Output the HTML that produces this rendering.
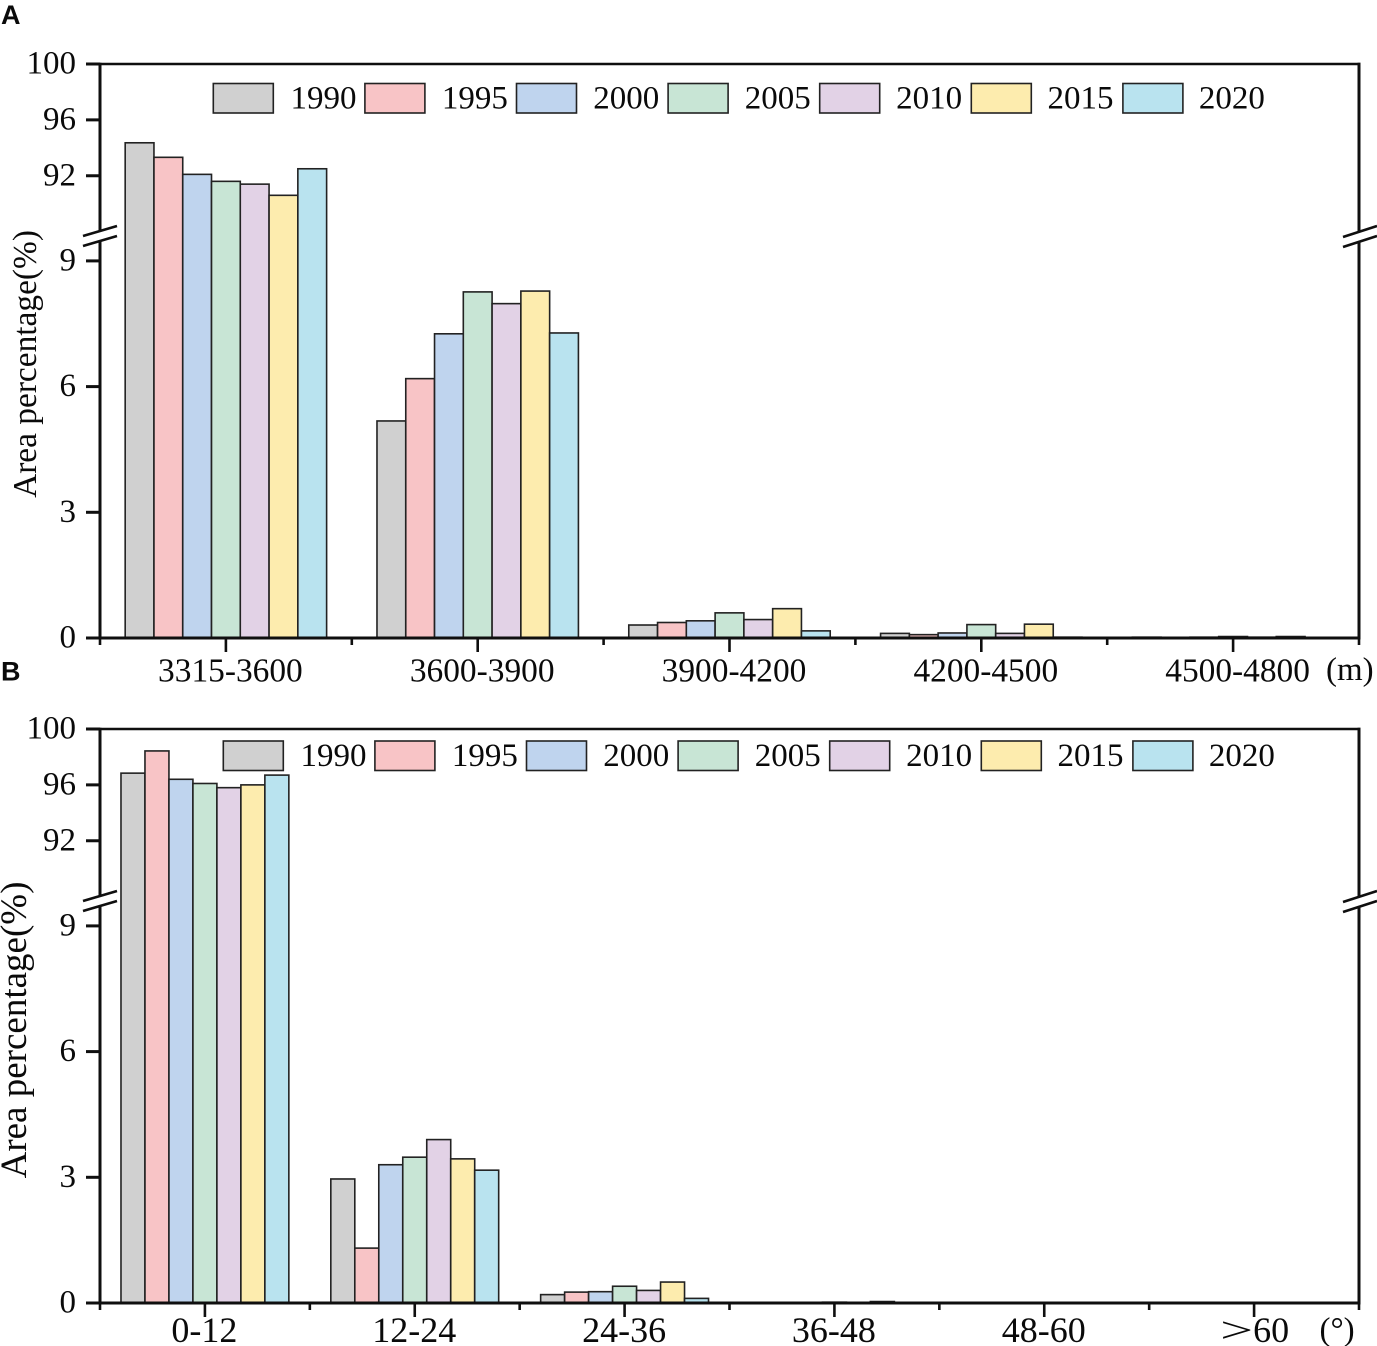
<!DOCTYPE html>
<html lang="en">
<head>
<meta charset="utf-8">
<title>Area percentage by elevation and slope</title>
<style>
html,body{margin:0;padding:0;background:#fff;}
svg{display:block;}
text{font-family:"Liberation Serif","Noto Serif CJK SC",serif;fill:#0a0a0a;}
.panel-letter{font-family:"Liberation Sans","Noto Sans CJK SC",sans-serif;font-weight:bold;}
</style>
</head>
<body>
<svg id="chart" xmlns="http://www.w3.org/2000/svg" width="1377" height="1346" viewBox="0 0 1377 1346"></svg>
<script>
const years = ['1990', '1995', '2000', '2005', '2010', '2015', '2020'];
const colors = ['#d0d0d0', '#f8c4c6', '#bfd4ee', '#c8e5d5', '#e2d2e6', '#fdecae', '#b9e3ef'];
const yTicks = [100, 96, 92, 9, 6, 3, 0];

const elevationCategories = ['3315-3600', '3600-3900', '3900-4200', '4200-4500', '4500-4800'];
const elevation1990 = [94.36, 5.18, 0.31, 0.11, 0.02];
const elevation1995 = [93.32, 6.19, 0.37, 0.08, 0];
const elevation2000 = [92.1, 7.26, 0.41, 0.12, 0.02];
const elevation2005 = [91.6, 8.26, 0.6, 0.32, 0.035];
const elevation2010 = [91.4, 7.98, 0.44, 0.11, 0.02];
const elevation2015 = [90.6, 8.28, 0.7, 0.33, 0.035];
const elevation2020 = [92.5, 7.28, 0.17, 0.02, 0];

const slopeCategories = ['0-12', '12-24', '24-36', '36-48', '48-60', '>60'];
const slope1990 = [96.84, 2.96, 0.2, 0, 0, 0];
const slope1995 = [98.43, 1.31, 0.26, 0, 0, 0];
const slope2000 = [96.4, 3.3, 0.27, 0, 0, 0];
const slope2005 = [96.1, 3.48, 0.4, 0.02, 0, 0];
const slope2010 = [95.8, 3.9, 0.3, 0, 0, 0];
const slope2015 = [96.0, 3.44, 0.5, 0.035, 0, 0];
const slope2020 = [96.7, 3.17, 0.11, 0, 0, 0];

const elevationSeries = [elevation1990, elevation1995, elevation2000, elevation2005, elevation2010, elevation2015, elevation2020];
const slopeSeries = [slope1990, slope1995, slope2000, slope2005, slope2010, slope2015, slope2020];

const svg = document.getElementById('chart');
const NS = 'http://www.w3.org/2000/svg';
const LEFT = 100, RIGHT = 1359, INK = '#0f0f0f';

function make(tag, attrs, parent) {
  const el = document.createElementNS(NS, tag);
  for (const k in attrs) el.setAttribute(k, attrs[k]);
  parent.appendChild(el);
  return el;
}

function line(x1, y1, x2, y2, w, parent, name) {
  const el = make('line', { x1: x1, y1: y1, x2: x2, y2: y2, stroke: INK, 'stroke-width': w }, parent);
  
  
  return el;
}

function label(str, x, y, size, anchor, parent, name) {
  const el = make('text', { x: x, y: y, 'font-size': size, 'text-anchor': anchor }, parent);
  el.textContent = str;
  
  
  return el;
}

function drawPanel(cfg) {
  const g = make('g', {}, svg);
  
  

  const top = cfg.top, bottom = top + 574;
  // piecewise broken y axis
  const yScale = function (v) {
    return v > 50 ? top + (100 - v) * 13.97 : bottom - v * 41.9;
  };
  const groupW = (RIGHT - LEFT) / cfg.categories.length;
  const xBand = function (i) { return LEFT + groupW * i; };
  const barW = groupW * 0.8 / years.length;

  // bars
  cfg.series.forEach(function (vals, s) {
    vals.forEach(function (v, c) {
      const yT = yScale(v);
      const bar = make('rect', {
        x: xBand(c) + groupW * 0.1 + barW * s,
        y: yT,
        width: barW,
        height: bottom - yT,
        fill: colors[s],
        stroke: '#222',
        'stroke-width': 1.6
      }, g);
      
      
    });
  });

  // frame
  const breakTop = top + 167, breakBot = top + 177;
  line(LEFT, top - 1.3, LEFT, breakTop, 3, g, 'y-axis-upper');
  line(LEFT, breakBot, LEFT, bottom, 3, g, 'y-axis-lower');
  line(RIGHT, top - 1.3, RIGHT, breakTop, 3, g, 'right-axis-upper');
  line(RIGHT, breakBot, RIGHT, bottom, 3, g, 'right-axis-lower');
  line(LEFT - 14, top, RIGHT + 1.5, top, 2.6, g, 'top-axis');
  line(LEFT - 1.5, bottom, RIGHT + 1.5, bottom, 3, g, 'x-axis');

  // break marks
  [0, 10].forEach(function (d) {
    line(83, top + 172 + d, 117, top + 162 + d, 2.6, g, 'y-axis-break-left');
    line(1343, top + 173 + d, 1377, top + 162 + d, 2.6, g, 'y-axis-break-right');
  });

  // y ticks
  yTicks.forEach(function (t) {
    const y = yScale(t);
    line(LEFT - 14, y, LEFT, y, 3, g, 'y-tick-' + t);
    label(String(t), 76, y + 9.5, 33, 'end', g, 'y-tick-label-' + t);
  });

  // x ticks
  for (let i = 0; i <= cfg.categories.length; i++) {
    line(xBand(i), bottom, xBand(i), bottom + 7, 2.6, g, 'x-minor-tick');
  }
  cfg.categories.forEach(function (cat, i) {
    const x = xBand(i) + groupW / 2;
    line(x, bottom, x, bottom + 14, 2.6, g, 'x-major-tick-' + cat);
    if (cat === '>60') {
      const t = make('text', { x: x - 34, y: bottom + cfg.labelDy, 'font-size': cfg.labelSize }, g);
      
      
      const gt = make('tspan', { textLength: 33, lengthAdjust: 'spacingAndGlyphs' }, t);
      gt.textContent = '>';
      const rest = make('tspan', {}, t);
      rest.textContent = '60';
    } else {
      label(cat, x + cfg.labelDx, bottom + cfg.labelDy, cfg.labelSize, 'middle', g, 'x-tick-label-' + cat);
    }
  });

  // unit
  label(cfg.unit, cfg.unitX, cfg.unitY, 33, 'start', g, 'x-axis-unit');

  // y title
  const title = label('Area percentage(%)', 0, 0, cfg.titleSize, 'middle', g, 'y-axis-title');
  title.setAttribute('transform', 'translate(' + cfg.titleX + ',' + cfg.titleY + ') rotate(-90)');

  // legend
  const legend = make('g', {}, g);
  
  
  years.forEach(function (yr, i) {
    const x = cfg.legendX + i * 151.6;
    const sw = make('rect', {
      x: x, y: cfg.legendY, width: 60, height: 29.5,
      fill: colors[i], stroke: '#222', 'stroke-width': 1.6
    }, legend);
    
    
    label(yr, x + 77.2 - i * 0.2, cfg.legendY + 25, 33, 'start', legend, 'legend-label-' + yr);
  });
}

drawPanel({
  name: 'panel-a-elevation', top: 64, categories: elevationCategories, series: elevationSeries,
  labelSize: 33.4, labelDx: 4.5, labelDy: 43.5, unit: '(m)', unitX: 1326, unitY: 680,
  titleSize: 33.4, titleX: 36, titleY: 364, legendX: 213.3, legendY: 83.5
});
drawPanel({
  name: 'panel-b-slope', top: 729, categories: slopeCategories, series: slopeSeries,
  labelSize: 36, labelDx: -0.5, labelDy: 39, unit: '(°)', unitX: 1319.5, unitY: 1340,
  titleSize: 37, titleX: 26, titleY: 1030, legendX: 223.3, legendY: 741
});

const letterA = make('text', { x: 1, y: 24, 'font-size': 27, class: 'panel-letter' }, svg);
letterA.textContent = 'A';


const letterB = make('text', { x: 1, y: 680.5, 'font-size': 27, class: 'panel-letter' }, svg);
letterB.textContent = 'B';


</script>
</body>
</html>
